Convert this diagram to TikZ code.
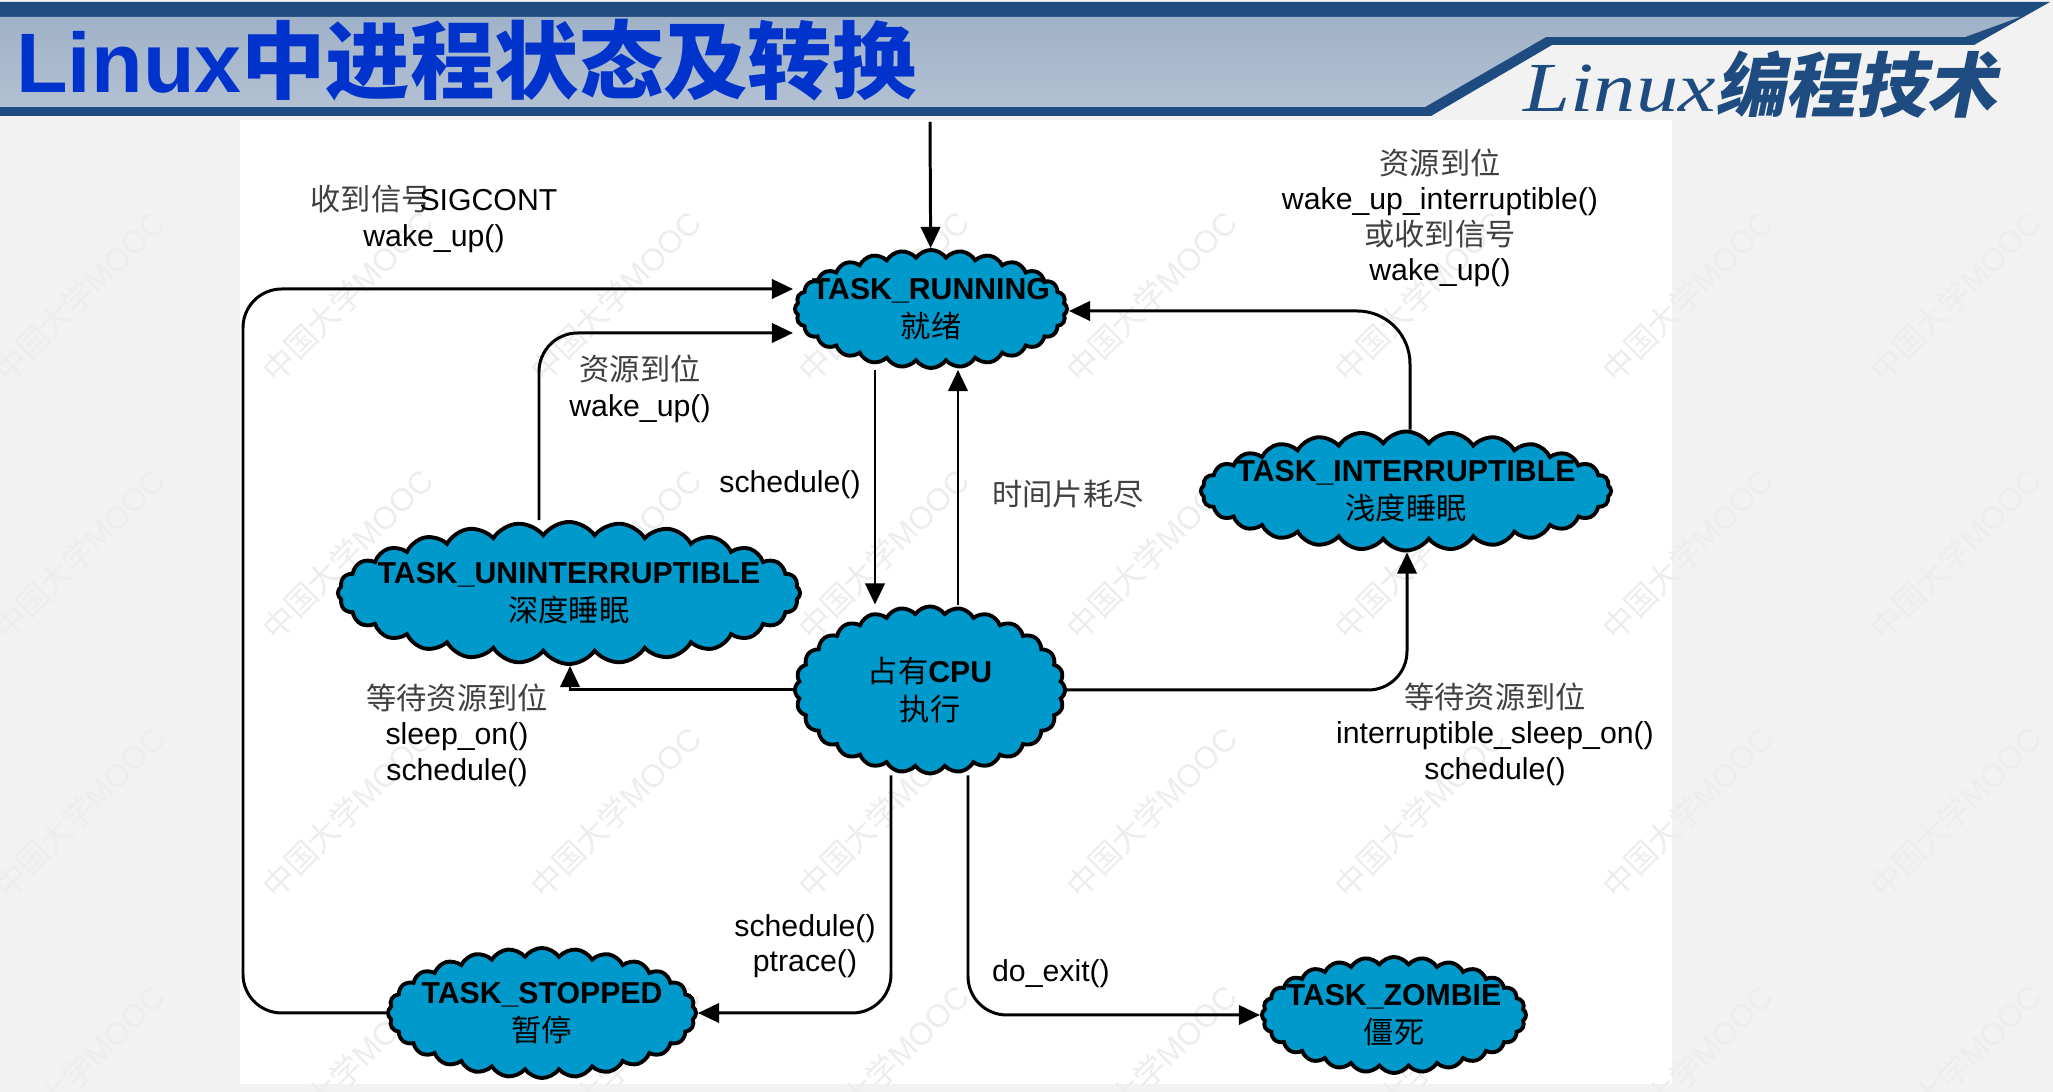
\documentclass[tikz,border=0pt]{standalone}
\usepackage{fontspec}
\setmainfont{Liberation Sans}
\newfontfamily\cjk{Noto Sans CJK SC}
\newfontfamily\cjkit[FakeSlant=0.2]{Noto Sans CJK SC}
\newfontfamily\serifwide[FakeStretch=1.2]{Liberation Serif}
\usetikzlibrary{positioning,shapes.symbols,arrows.meta}
\definecolor{cloudblue}{RGB}{0,153,204}
\definecolor{navy}{RGB}{30,76,128}
\definecolor{titleblue}{RGB}{0,51,204}
\definecolor{slidegray}{RGB}{242,242,242}
\newcommand{\zh}[1]{{\cjk #1}}
\newcommand{\zhl}[1]{{\cjk\color{black!75}#1}}

\begin{document}
\begin{tikzpicture}[x=0.01cm, y=-0.01cm, thick, >={Triangle[length=6pt,width=5.5pt]},
state/.style = {cloud, draw, cloud puffs=28, cloud puff arc=110, cloud ignores aspect,
  fill=cloudblue, line width=1.1pt, align=center, inner xsep=-12pt, inner ysep=-2pt,
  font=\fontsize{8.6}{10.8}\selectfont},
lbl/.style = {align=center, font=\fontsize{8.6}{10.1}\selectfont},
link/.style = {->, line width=0.85pt},
wmark/.style = {rotate=45, text=black!7, font=\fontsize{9}{9}\selectfont}]
\useasboundingbox (0,0) rectangle (2053,1092);
% slide background, panel and watermark
\fill[slidegray] (0,0) rectangle (2053,1092);
\fill[white] (240,120) rectangle (1672,1084);
\foreach \wx in {79,347,...,2000}
  \foreach \wy in {296,554,812,1070}
    \node[wmark] at (\wx,\wy) {\zh{中国大学}MOOC};
% header
\fill[navy] (0,2) -- (2050,2) -- (1974,45) -- (1552,45) -- (1431,116) -- (0,116) -- cycle;
\shade[top color={rgb,255:red,160;green,178;blue,200}, middle color={rgb,255:red,218;green,224;blue,232},
  bottom color={rgb,255:red,178;green,192;blue,210}]
  (0,17) -- (2020,17) -- (1965,37) -- (1546,37) -- (1425,107) -- (0,107) -- cycle;
\node[anchor=base west, inner sep=0pt, text=titleblue, font=\fontsize{24}{24}\selectfont\bfseries]
  (title) at (15,93) {Linux\zh{中进程状态及转换}};
\node[anchor=base west, inner sep=0pt, text=navy, font=\fontsize{20}{20}\selectfont]
  (course) at (1522,112) {{\serifwide\itshape Linux}{\cjkit\bfseries 编程技术}};

% states
\node[state, minimum width=2.72cm, minimum height=1.18cm] (run) at (931,309) {\textbf{TASK\_RUNNING}\\\zh{就绪}};
\node[state, minimum width=4.10cm, minimum height=1.19cm] (intr) at (1406,491) {\textbf{TASK\_INTERRUPTIBLE}\\\zh{浅度睡眠}};
\node[state, minimum width=4.62cm, minimum height=1.42cm] (unintr) at (569,593) {\textbf{TASK\_UNINTERRUPTIBLE}\\\zh{深度睡眠}};
\node[state, minimum width=2.70cm, minimum height=1.67cm] (cpu) at (930,690) {\zh{占有}\textbf{CPU}\\\zh{执行}};
\node[state, minimum width=3.08cm, minimum height=1.30cm] (stop) at (542,1013) {\textbf{TASK\_STOPPED}\\\zh{暂停}};
\node[state, minimum width=2.64cm, minimum height=1.16cm] (zombie) at (1394,1015) {\textbf{TASK\_ZOMBIE}\\\zh{僵死}};
\coordinate (new) at (930,122);

% transitions
\draw[link] (new) -- (run);
\draw[link, rounded corners=11pt] (stop.west) -| (243,289) -- (run.west |- 0,289);
\draw[link, rounded corners=11pt] (unintr.north -| 539,0) |- (run.west |- 0,333);
\draw[link] (run.south -| 875,0) -- (cpu.north -| 875,0);
\draw[link] (cpu.north -| 958,0) -- (run.south -| 958,0);
\draw[link, rounded corners=15pt] (intr.north -| 1410,0) |- (run.east |- 0,311);
\draw[link, rounded corners=11pt] (cpu.east) -| (intr.south -| 1407,0);
\draw[link] (cpu.west) -| (unintr.south -| 570,0);
\draw[link, rounded corners=11pt] (cpu.south -| 891,0) |- (stop.east);
\draw[link, rounded corners=11pt] (cpu.south -| 968,0) |- (zombie.west);

% labels
\node[lbl] (l1) at (434,219) {\zhl{收到信号}\kern-0.4em SIGCONT\\wake\_up()};
\node[lbl] (l2) at (640,389) {\zhl{资源到位}\\wake\_up()};
\node[lbl] (l3) at (790,485) {schedule()};
\node[lbl] (l4) at (1068,494) {\zhl{时间片耗尽}};
\node[lbl] (l5) at (1440,218) {\zhl{资源到位}\\wake\_up\_interruptible()\\\zhl{或收到信号}\\wake\_up()};
\node[lbl] (l6) at (1495,734) {\zhl{等待资源到位}\\interruptible\_sleep\_on()\\schedule()};
\node[lbl] (l7) at (457,735) {\zhl{等待资源到位}\\sleep\_on()\\schedule()};
\node[lbl] (l8) at (805,946) {schedule()\\ptrace()};
\node[lbl] (l9) at (1051,974) {do\_exit()};
\end{tikzpicture}
\end{document}
